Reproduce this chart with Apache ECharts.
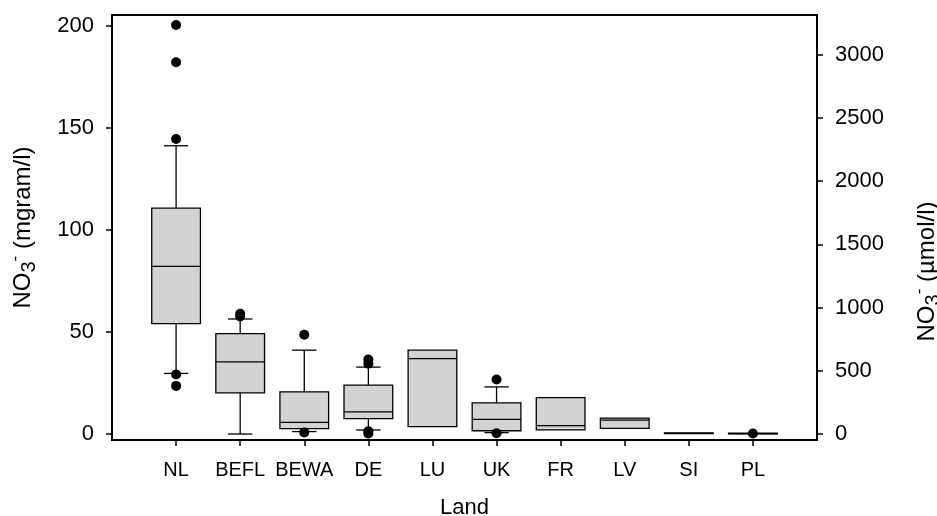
<!DOCTYPE html>
<html>
<head>
<meta charset="utf-8">
<script src="https://cdn.jsdelivr.net/npm/echarts@6/dist/echarts.min.js"></script>
<style>
html,body{margin:0;padding:0;background:#fff;}
#chart{width:937px;height:516px;}
</style>
</head>
<body>
<div id="chart"></div>
<script>
// ---- data (NO3- in mg/l) ----
const categories = ['NL', 'BEFL', 'BEWA', 'DE', 'LU', 'UK', 'FR', 'LV', 'SI', 'PL'];
const boxMin    = [29.7,  0.0,  1.2,  2.0,  3.6,  0.7,  2.0, 2.8, 0.15, 0.1];
const boxQ1     = [54.1, 20.2,  2.6,  7.5,  3.6,  1.6,  2.0, 2.8, 0.15, 0.1];
const boxMedian = [82.2, 35.4,  5.7, 10.9, 37.0,  7.2,  4.1, 6.8, 0.3,  0.2];
const boxQ3     = [110.7, 49.2, 20.7, 24.0, 41.1, 15.3, 17.8, 7.8, 0.6,  0.4];
const boxMax    = [141.3, 56.4, 41.1, 32.8, 41.1, 23.1, 17.8, 7.8, 0.6,  0.4];
const outlierCategory = ['NL', 'NL', 'NL', 'NL', 'NL', 'BEFL', 'BEFL', 'BEWA', 'BEWA', 'DE', 'DE', 'DE', 'DE', 'UK', 'UK', 'PL'];
const outlierValue    = [200.5, 182.2, 144.6, 29.2, 23.6, 59.0, 57.6, 48.7, 0.8, 36.5, 34.5, 1.3, 0.3, 26.7, 0.4, 0.3];
const leftTicks  = [0, 50, 100, 150, 200];
const rightTicks = [0, 500, 1000, 1500, 2000, 2500, 3000];
const mgToUmol = 1000 / 62.0;

// axis ranges
const leftMin = -2.93, leftMax = 205.4;

const xCats = [''].concat(categories, [' ']);
const boxData = categories.map((c, i) => [i + 1, boxMin[i], boxQ1[i], boxMedian[i], boxQ3[i], boxMax[i]]);
const outlierData = outlierCategory.map((c, i) => [categories.indexOf(c) + 1, outlierValue[i]]);

const FONT = '"Liberation Sans", Arial, sans-serif';
const lineStyle = { stroke: '#000', lineWidth: 1.3 };

function renderBox(params, api) {
  const x = api.value(0);
  const v = [api.value(1), api.value(2), api.value(3), api.value(4), api.value(5)];
  const band = api.size([1, 0])[0];
  const half = band * 0.38;
  const cap = band * 0.19;
  const p = v.map(val => api.coord([x, val]));
  const cx = p[0][0];
  const children = [];
  if (v[0] < v[1]) {
    children.push({ type: 'line', shape: { x1: cx, y1: p[0][1], x2: cx, y2: p[1][1] }, style: lineStyle });
    children.push({ type: 'line', shape: { x1: cx - cap, y1: p[0][1], x2: cx + cap, y2: p[0][1] }, style: lineStyle });
  }
  if (v[4] > v[3]) {
    children.push({ type: 'line', shape: { x1: cx, y1: p[4][1], x2: cx, y2: p[3][1] }, style: lineStyle });
    children.push({ type: 'line', shape: { x1: cx - cap, y1: p[4][1], x2: cx + cap, y2: p[4][1] }, style: lineStyle });
  }
  children.push({
    type: 'rect',
    shape: { x: cx - half, y: p[3][1], width: 2 * half, height: Math.max(p[1][1] - p[3][1], 0.5) },
    style: { fill: '#d3d3d3', stroke: '#000', lineWidth: 1.3 }
  });
  children.push({ type: 'line', shape: { x1: cx - half, y1: p[2][1], x2: cx + half, y2: p[2][1] }, style: lineStyle });
  return { type: 'group', children: children };
}

const nameRich = {
  b: { fontSize: 24, fontFamily: FONT, color: '#000', lineHeight: 32, verticalAlign: 'middle' },
  sub: { fontSize: 20, fontFamily: FONT, color: '#000', lineHeight: 20, verticalAlign: 'bottom' },
  sup: { fontSize: 17, fontFamily: FONT, color: '#000', lineHeight: 17, verticalAlign: 'top' }
};

const chart = echarts.init(document.getElementById('chart'), null, { renderer: 'canvas' });
chart.setOption({
  animation: false,
  backgroundColor: '#fff',
  grid: { left: 112, right: 120, top: 15, bottom: 76, outerBoundsMode: 'none', containLabel: false, show: true, borderColor: '#000', borderWidth: 2, backgroundColor: 'transparent' },
  xAxis: {
    type: 'category',
    data: xCats,
    boundaryGap: false,
    name: 'Land',
    nameLocation: 'middle',
    nameGap: 57,
    nameTextStyle: { fontSize: 22, fontFamily: FONT, color: '#000' },
    axisLine: { onZero: false, lineStyle: { color: '#000', width: 2 } },
    axisTick: { length: 6, lineStyle: { color: '#000', width: 1.5 }, interval: function (i) { return i > 0 && i < xCats.length - 1; } },
    axisLabel: { margin: 20, fontSize: 20, fontFamily: FONT, color: '#000', interval: 0 },
    splitLine: { show: false }
  },
  yAxis: [
    {
      type: 'value',
      position: 'left',
      min: leftMin,
      max: leftMax,
      name: '{b|NO}{sub|3}{sup|-}{b| (mgram/l)}',
      nameLocation: 'middle',
      nameRotate: 90,
      nameGap: 73,
      nameTextStyle: { rich: nameRich },
      axisLine: { show: true, onZero: false, lineStyle: { color: '#000', width: 2 } },
      axisTick: { show: true, length: 6, lineStyle: { color: '#000', width: 1.5 }, customValues: leftTicks },
      axisLabel: { margin: 18, fontSize: 22, fontFamily: FONT, color: '#000', customValues: leftTicks },
      splitLine: { show: false }
    },
    {
      type: 'value',
      position: 'right',
      min: leftMin * mgToUmol,
      max: leftMax * mgToUmol,
      name: '{b|NO}{sub|3}{sup|-}{b| (µmol/l)}',
      nameLocation: 'middle',
      nameRotate: 90,
      nameGap: 94,
      nameTextStyle: { rich: nameRich, padding: [0, 88, 0, 0] },
      axisLine: { show: true, onZero: false, lineStyle: { color: '#000', width: 2 } },
      axisTick: { show: true, length: 6, lineStyle: { color: '#000', width: 1.5 }, customValues: rightTicks },
      axisLabel: { margin: 18, fontSize: 22, fontFamily: FONT, color: '#000', customValues: rightTicks, formatter: function (v) { return String(v); } },
      splitLine: { show: false }
    }
  ],
  series: [
    {
      type: 'custom',
      name: 'box',
      xAxisIndex: 0,
      yAxisIndex: 0,
      renderItem: renderBox,
      encode: { x: 0, y: [1, 2, 3, 4, 5] },
      data: boxData,
      z: 2
    },
    {
      type: 'scatter',
      name: 'outliers',
      xAxisIndex: 0,
      yAxisIndex: 0,
      symbol: 'circle',
      symbolSize: 10,
      itemStyle: { color: '#000', opacity: 1 },
      data: outlierData,
      z: 3
    }
  ]
});
</script>
</body>
</html>
